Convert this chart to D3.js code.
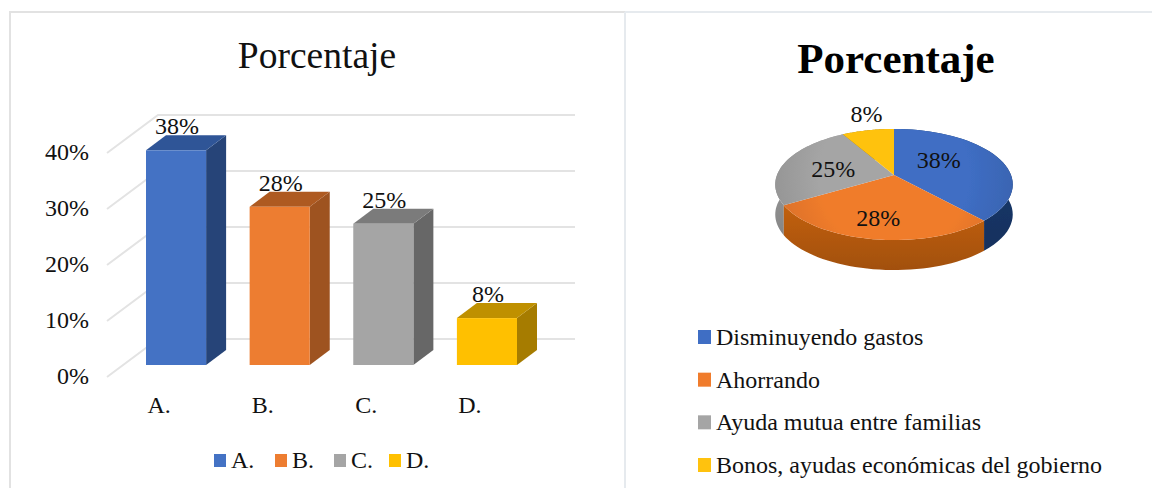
<!DOCTYPE html>
<html><head><meta charset="utf-8">
<script src="https://d3js.org/d3.v7.min.js"></script>
<style>html,body{margin:0;background:#fff}text{font-family:"Liberation Serif",serif;fill:#111}</style>
</head><body><svg id="c" width="1152" height="488"></svg>
<script>
const chartTitle = "Porcentaje";
const categories = ["A.", "B.", "C.", "D."];
const values = [38, 28, 25, 8.3];
const tickValues = [0, 10, 20, 30, 40];
const colors = ["#4472c4", "#ed7d31", "#a5a5a5", "#ffc000"];
const topColors = ["#2f5597", "#ae5a21", "#7b7b7b", "#bf9000"];
const sideColors = ["#264478", "#9e5320", "#676767", "#a67c00"];
const pieLegend = ["Disminuyendo gastos", "Ahorrando", "Ayuda mutua entre familias", "Bonos, ayudas económicas del gobierno"];
const pieColors = ["#3f6ec4", "#f07c2c", "#a5a5a5", "#ffc20e"];
const pieSide = ["#173a70", "#c2600f", "#a0a0a0", "#a67c00"];

const svg = d3.select("#c");
const pct = d3.format(".0f");
const line = d3.line();
const soft = svg.append("defs").append("filter").attr("id", "soft");
soft.append("feGaussianBlur").attr("stdDeviation", 0.7);

// panel frame
const frame = svg.append("g").attr("fill", "none").attr("stroke-width", 2);
frame.append("path").attr("stroke", "#e2e2e2").attr("d", "M10,488V12H625");
frame.append("path").attr("stroke", "#e6eaee").attr("d", "M625,12H1152M625,12V488");

// ---- bar chart
const depthX = 20, depthY = -15;
const wallX = 51, wallY = -38;
const yWall = d3.scaleLinear().domain([0, 40]).range([376, 152]);
const yBar = d3.scaleLinear().domain([0, 40]).range([365, 139]);
const x = d3.scaleBand().domain(categories).range([146, 517]).paddingInner(0.42).paddingOuter(0);

const grid = svg.append("g").attr("stroke", "#e3e3e3").attr("stroke-width", 2).attr("fill", "none");
tickValues.forEach(t => {
  const y0 = yWall(t);
  grid.append("path").attr("d", line([[107, y0 + 1], [107 + wallX, y0 + 1 + wallY], [575, y0 + 1 + wallY]]));
});
svg.append("g").selectAll("text").data(tickValues).join("text")
  .attr("x", 89).attr("y", d => yWall(d)).attr("dy", "0.33em")
  .attr("text-anchor", "end").attr("font-size", 24).text(d => d + "%");

categories.forEach((c, i) => {
  const x0 = x(c), w = x.bandwidth(), yt = yBar(values[i]), yb = yBar(0);
  const g = svg.append("g");
  g.append("path").attr("fill", sideColors[i]).attr("d", line([[x0 + w, yt], [x0 + w + depthX, yt + depthY], [x0 + w + depthX, yb + depthY], [x0 + w, yb]]) + "Z");
  g.append("path").attr("fill", topColors[i]).attr("d", line([[x0, yt], [x0 + depthX, yt + depthY], [x0 + w + depthX, yt + depthY], [x0 + w, yt]]) + "Z");
  g.append("rect").attr("x", x0).attr("y", yt).attr("width", w).attr("height", yb - yt).attr("fill", colors[i]);
  g.append("text").attr("x", x0 + w / 2 + 1).attr("y", yt - 24).attr("dy", "0.33em").attr("text-anchor", "middle").attr("font-size", 24).text(pct(values[i]) + "%");
  svg.append("text").attr("x", x0 + w / 2 - 17).attr("y", 405).attr("dy", "0.33em").attr("text-anchor", "middle").attr("font-size", 24).text(c);
});
svg.append("text").attr("x", 317).attr("y", 68).attr("text-anchor", "middle").attr("font-size", 37.5).text(chartTitle);

const legX = d3.scaleOrdinal().domain(categories).range([214, 275, 334, 389]);
categories.forEach((c, i) => {
  svg.append("rect").attr("x", legX(c)).attr("y", 454).attr("width", 12).attr("height", 13).attr("fill", colors[i]);
  svg.append("text").attr("x", legX(c) + 17).attr("y", 460).attr("dy", "0.33em").attr("font-size", 24).text(c);
});

// ---- 3D pie
svg.append("text").attr("x", 896).attr("y", 73).attr("text-anchor", "middle").attr("font-size", 43).attr("font-weight", "bold").style("fill", "#000").text(chartTitle);
const cx = 894, R = 117, a = 24, b = 175, k = -0.171, pieDepth = 30;
const proj = (r, ang) => {
  const X = r * Math.sin(ang), Y = -r * Math.cos(ang), d = k * Y + 1;
  return [cx + R * X / d, (a * Y + b) / d];
};
const pieData = d3.pie().sort(null)(values);
const arcPts = d => d3.range(0, 41).map(i => proj(1, d.startAngle + (d.endAngle - d.startAngle) * i / 40));
const defs = svg.append("defs");
pieData.forEach((d, i) => {
  const gr = defs.append("radialGradient").attr("id", "t" + i).attr("gradientUnits", "userSpaceOnUse")
    .attr("cx", cx).attr("cy", b).attr("r", 125);
  gr.append("stop").attr("offset", "0.6").attr("stop-color", pieColors[i]);
  gr.append("stop").attr("offset", "1").attr("stop-color", d3.color(pieColors[i]).darker(0.3));
  const sg = defs.append("linearGradient").attr("id", "s" + i).attr("x1", 0).attr("x2", 0).attr("y1", 0).attr("y2", 1);
  sg.append("stop").attr("offset", "0").attr("stop-color", pieSide[i]);
  sg.append("stop").attr("offset", "1").attr("stop-color", d3.color(pieSide[i]).darker(0.5));
});
const pieG = svg.append("g").attr("filter", "url(#soft)");
[3, 2, 0, 1].forEach(i => {
  const pts = arcPts(pieData[i]);
  const low = pts.map(p => [p[0], p[1] + pieDepth]).reverse();
  pieG.append("path").attr("fill", `url(#s${i})`).attr("d", line(pts.concat(low)) + "Z");
});
pieData.forEach((d, i) => {
  pieG.append("path").attr("fill", `url(#t${i})`).attr("d", line([proj(0, 0)].concat(arcPts(d))) + "Z");
});
const labelPlace = [[0.42, 0, -7], [0.7, -2, 1], [0.55, 0, 1], [1.45, 8, 0]];
pieData.forEach((d, i) => {
  const [f, dx, dy] = labelPlace[i];
  const p = proj(f, (d.startAngle + d.endAngle) / 2);
  svg.append("text").attr("x", p[0] + dx).attr("y", p[1] + dy).attr("dy", "0.33em").attr("text-anchor", "middle").attr("font-size", 24).text(pct(d.value) + "%");
});
const legY = d3.scalePoint().domain(pieLegend).range([337, 465]);
pieLegend.forEach((t, i) => {
  svg.append("rect").attr("x", 698).attr("y", legY(t) - 7).attr("width", 13).attr("height", 14).attr("fill", pieColors[i]);
  svg.append("text").attr("x", 716).attr("y", legY(t)).attr("dy", "0.33em").attr("font-size", 24).text(t);
});
</script></body></html>
